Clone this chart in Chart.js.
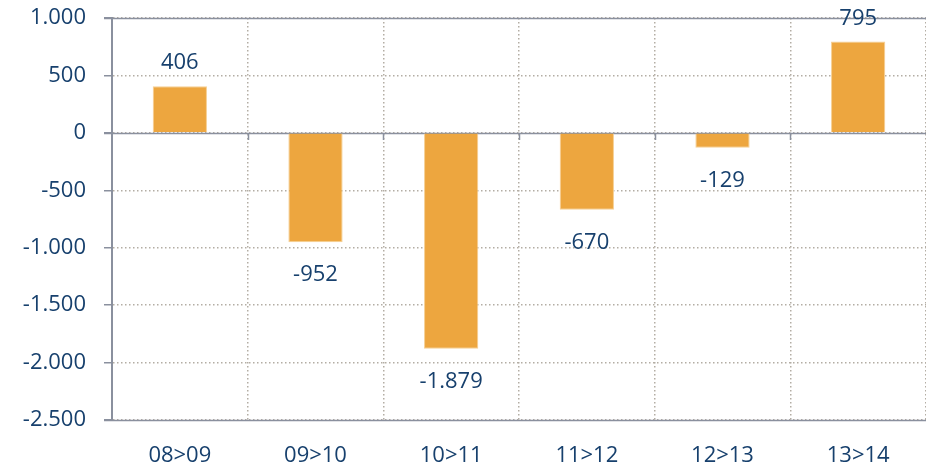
<!DOCTYPE html>
<html>
<head>
<meta charset="utf-8">
<script src="https://cdn.jsdelivr.net/npm/chart.js@4"></script>
<style>
  html, body { margin: 0; padding: 0; background: #fff; }
  #wrap { width: 926px; height: 468px; }
</style>
</head>
<body>
<div id="wrap"><canvas id="c"></canvas></div>
<script>
// data
const categories = ['08>09', '09>10', '10>11', '11>12', '12>13', '13>14'];
const values = [406, -952, -1879, -670, -129, 795];
const yTicks = [1000, 500, 0, -500, -1000, -1500, -2000, -2500];

const TEXT = '#17406D';
const AXIS = '#8A909E';
const DOTS = '#B3ADA4';
const BAR = '#EDA63F';
const FONT = "'Open Sans', 'Liberation Sans', sans-serif";
const FSIZE = 22;

// 1.000 style numbers
function fmt(v) {
  const s = Math.abs(v).toString().replace(/\B(?=(\d{3})+(?!\d))/g, '.');
  return (v < 0 ? '-' : '') + s;
}

// solid lines at 0, top and bottom plus small ticks on the zero line
const solidLines = {
  id: 'solidLines',
  beforeDatasetsDraw(chart) {
    const { ctx, chartArea: a, scales: { x, y } } = chart;
    ctx.save();
    ctx.strokeStyle = AXIS;
    ctx.lineWidth = 1.5;
    [1000, 0, -2500].forEach(v => {
      const py = Math.round(y.getPixelForValue(v)) + 0.5;
      ctx.beginPath(); ctx.moveTo(a.left - 8, py); ctx.lineTo(a.right, py); ctx.stroke();
    });
    const y0 = Math.round(y.getPixelForValue(0));
    for (let i = 1; i < categories.length; i++) {
      const px = Math.round((x.getPixelForValue(i - 1) + x.getPixelForValue(i)) / 2) + 0.5;
      ctx.beginPath(); ctx.moveTo(px, y0); ctx.lineTo(px, y0 + 7); ctx.stroke();
    }
    ctx.restore();
  }
};

// value labels above positive / below negative bars
const valueLabels = {
  id: 'valueLabels',
  afterDatasetsDraw(chart) {
    const { ctx } = chart;
    const meta = chart.getDatasetMeta(0);
    ctx.save();
    ctx.font = FSIZE + 'px ' + FONT;
    ctx.fillStyle = TEXT;
    ctx.textAlign = 'center';
    ctx.textBaseline = 'middle';
    meta.data.forEach((bar, i) => {
      const v = values[i];
      const py = v >= 0 ? bar.y - 23 : bar.y + 33;
      ctx.fillText(fmt(v), bar.x, py);
    });
    ctx.restore();
  }
};

new Chart(document.getElementById('c'), {
  type: 'bar',
  data: {
    labels: categories,
    datasets: [{
      data: values,
      backgroundColor: BAR,
      borderColor: '#F6CF93',
      borderWidth: 1,
      categoryPercentage: 1,
      barPercentage: 0.4
    }]
  },
  options: {
    responsive: true,
    maintainAspectRatio: false,
    animation: false,
    layout: { padding: { top: 18, right: 0, left: 0, bottom: 0 } },
    plugins: { legend: { display: false }, tooltip: { enabled: false } },
    scales: {
      x: {
        offset: true,
        grid: { offset: true, color: DOTS, lineWidth: 1.5, drawTicks: false },
        border: { display: false, dash: [1.5, 2.5] },
        ticks: { color: TEXT, font: { family: FONT, size: FSIZE }, padding: 23 },
        afterFit: s => { s.height = 48; s.paddingLeft = 0; s.paddingRight = 0; }
      },
      y: {
        min: -2500,
        max: 1000,
        afterBuildTicks: s => { s.ticks = yTicks.map(v => ({ value: v })); },
        grid: { color: DOTS, lineWidth: 1.5, tickLength: 8, tickColor: AXIS, tickBorderDash: [] },
        border: { display: true, color: AXIS, width: 2, dash: [1.5, 2.5] },
        ticks: { color: TEXT, font: { family: FONT, size: FSIZE }, padding: 18, callback: v => fmt(v) },
        afterFit: s => { s.width = 112; s.paddingTop = 0; s.paddingBottom = 0; }
      }
    }
  },
  plugins: [solidLines, valueLabels]
});
</script>
</body>
</html>
